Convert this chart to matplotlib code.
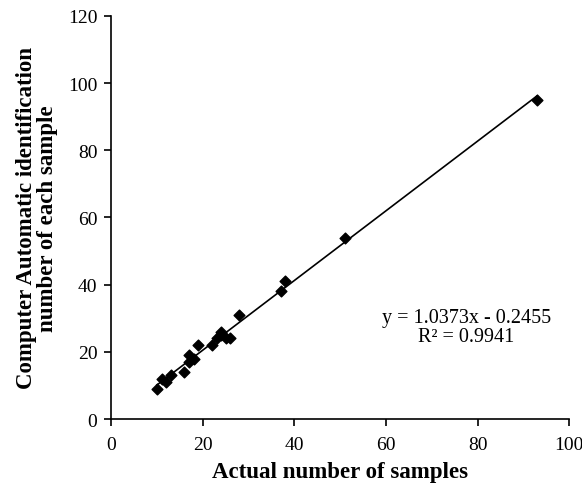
import matplotlib
matplotlib.use("Agg")
import matplotlib.pyplot as plt
import numpy as np

actual = [10, 11, 12, 13, 16, 17, 17, 18, 19, 22, 23, 24, 24, 25, 26, 28, 37, 38, 51, 93]
detected = [9, 12, 11, 13, 14, 19, 17, 18, 22, 22, 24, 25, 26, 24, 24, 31, 38, 41, 54, 95]
slope = 1.0373
intercept = -0.2455
r2 = 0.9941
xticks = [0, 20, 40, 60, 80, 100]
yticks = [0, 20, 40, 60, 80, 100, 120]

plt.rcParams['font.family'] = ['Liberation Serif', 'DejaVu Serif']

fig = plt.figure(figsize=(5.82, 4.85), dpi=100)
ax = fig.add_axes([0.191, 0.134, 0.787, 0.831])

ax.scatter(actual, detected, marker='D', s=30, color='black', zorder=3)
xl = np.array([min(actual), max(actual)])
ax.plot(xl, slope * xl + intercept, color='black', lw=1.2, zorder=2)

ax.set_xlim(0, 100)
ax.set_ylim(0, 120)
ax.set_xticks(xticks)
ax.set_yticks(yticks)
for s in ['top', 'right']:
    ax.spines[s].set_visible(False)
for s in ['left', 'bottom']:
    ax.spines[s].set_linewidth(1.2)
ax.tick_params(direction='out', length=5, width=1.2, labelsize=14)
ax.tick_params(axis='x', pad=7)
ax.tick_params(axis='y', pad=5)

ax.set_xlabel('Actual number of samples', fontsize=16.5, fontweight='bold', labelpad=6)
ax.set_ylabel('Computer Automatic identification\nnumber of each sample', fontsize=16.5,
              fontweight='bold', labelpad=7, linespacing=1.0)

ax.text(0.775, 0.228, f'y = {slope}x - {abs(intercept)}\nR² = {r2}', transform=ax.transAxes,
        ha='center', va='center', fontsize=14.5, linespacing=1.05)

fig.savefig('out.png', dpi=100)
